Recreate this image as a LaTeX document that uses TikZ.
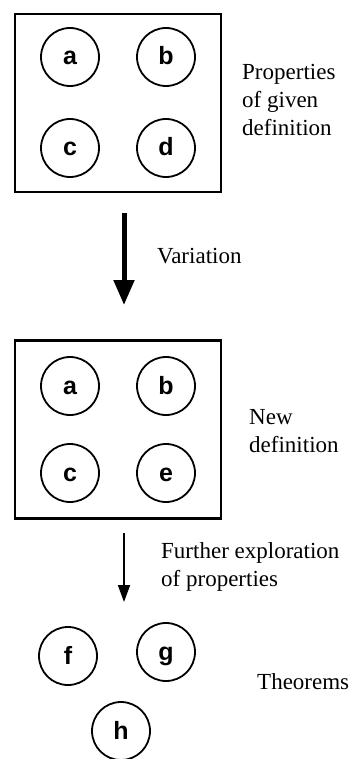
\documentclass[tikz,border=0pt]{standalone}
\usepackage{fontspec}
\setmainfont{Liberation Serif}
\setsansfont{Liberation Sans}
\usetikzlibrary{arrows.meta}
\begin{document}
\begin{tikzpicture}[x=1pt,y=-1pt,
  prop/.style={circle,draw,line width=1.8pt,minimum size=58pt,inner sep=0pt,text height=16pt,text depth=0pt,font=\sffamily\bfseries\fontsize{25}{28}\selectfont},
  frame/.style={draw,line width=2.4pt,minimum width=206pt,minimum height=178pt,inner sep=0pt},
  lbl/.style={font=\fontsize{23}{28}\selectfont,align=left,anchor=west,inner sep=0pt}]
\useasboundingbox (0,0) rectangle (354,759);
\node[frame] (box1) at (118,103) {};
\node[prop] (a1) at (70,57) {a};
\node[prop] (b1) at (166,57) {b};
\node[prop] (c1) at (70,148) {c};
\node[prop] (d1) at (166,148) {d};
\node[lbl] (t1) at (242,100) {Properties\\of given\\definition};

\node[frame] (box2) at (118,429.5) {};
\node[prop] (a2) at (70,386) {a};
\node[prop] (b2) at (166,386) {b};
\node[prop] (c2) at (70,473) {c};
\node[prop] (e2) at (166,473) {e};
\node[lbl] (t2) at (249,431) {New\\definition};

\node[lbl] (t3) at (157,256) {Variation};
\coordinate (s1) at (124,213);
\coordinate (e1) at (124,305);
\draw[line width=5pt,-{Triangle[length=25pt,width=20pt]}] (s1) -- (e1);

\coordinate (s2) at (124,533);
\coordinate (e2) at (124,602);
\draw[line width=1.8pt,-{Triangle[length=17pt,width=12pt]}] (s2) -- (e2);
\node[lbl] (t4) at (161,567) {Further exploration\\of properties};

\node[prop] (f) at (68,656) {f};
\node[prop] (g) at (166,652) {g};
\node[prop] (h) at (121,731) {h};
\node[lbl] (t5) at (257,682) {Theorems};
\end{tikzpicture}
\end{document}
